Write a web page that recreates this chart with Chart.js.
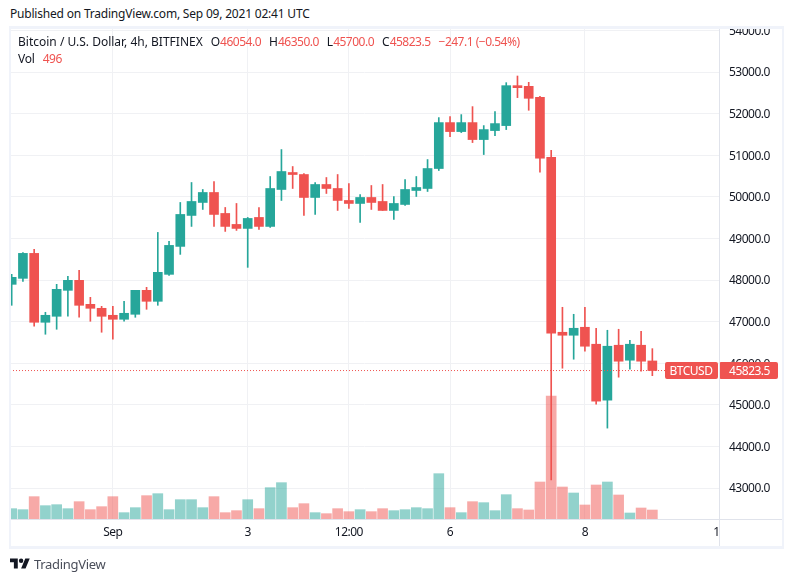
<!DOCTYPE html>
<html>
<head>
<meta charset="utf-8">
<script src="https://cdn.jsdelivr.net/npm/chart.js@4/dist/chart.umd.min.js"></script>
<style>
    html, body { margin: 0; padding: 0; background: #fff; }
    body { width: 793px; height: 582px; position: relative; overflow: hidden; font-family: 'Noto Sans', sans-serif; color: #131722; }
    canvas { position: absolute; left: 0; top: 0; }
    .abs { position: absolute; white-space: pre; font-size: 12px; line-height: 16px; letter-spacing: -0.2px; }
    .line { position: absolute; background: #e0e3eb; }
    .frame { position: absolute; background: #f0f3fa; }
    .red { color: #ef5350; letter-spacing: -0.5px; }
    .gap { margin-left: 8px; }
</style>
</head>
<body>
<canvas id="chart" width="793" height="582"></canvas>
<div style="position:absolute;left:0;top:0;width:793px;height:26px;background:#fff"></div>
<div class="frame" style="left:9px;top:26px;width:775px;height:3px"></div>
<div class="frame" style="left:9px;top:26px;width:2px;height:523px"></div>
<div class="frame" style="left:782px;top:26px;width:2px;height:523px"></div>
<div class="frame" style="left:9px;top:546px;width:775px;height:3px"></div>
<div class="line" style="left:719px;top:29px;width:1px;height:517px"></div>
<div class="line" style="left:11px;top:519px;width:771px;height:1px"></div>
<div class="abs" style="left:10px;top:6px">Published on TradingView.com, Sep 09, 2021 02:41 UTC</div>
<div class="abs" style="left:18px;top:34px;letter-spacing:0">Bitcoin / U.S. Dollar, 4h, BITFINEX<span class="gap">O</span><span class="red">46054.0</span><span class="gap">H</span><span class="red">46350.0</span><span class="gap">L</span><span class="red">45700.0</span><span class="gap">C</span><span class="red">45823.5</span><span class="gap red">−247.1 (−0.54%)</span></div>
<div class="abs" style="left:18px;top:51px">Vol<span class="gap red">496</span></div>
<svg style="position:absolute;left:10px;top:556px" width="20" height="16" viewBox="0 0 36 28"><path fill="#131722" d="M14 22H7V11H0V4h14v18zM28 22h-8l7.5-18h8L28 22z"/><circle fill="#131722" cx="20" cy="8" r="4"/></svg>
<div class="abs" style="left:34px;top:556px;font-size:13px;letter-spacing:-0.3px;color:#4a4e5a">TradingView</div>
<script>
const opens = [47896, 48040, 48640, 46984, 47128, 47752, 47992, 47416, 47320, 47152, 47056, 47176, 47752, 47488, 48136, 48808, 49552, 49864, 50104, 49600, 49336, 49240, 49504, 49288, 50176, 50584, 50536, 49984, 50296, 50200, 49912, 49840, 49984, 49888, 49672, 49816, 50152, 50200, 50680, 51784, 51568, 51784, 51376, 51592, 51712, 52672, 52656, 52392, 50952, 46744, 46672, 46864, 46456, 45112, 46432, 46072, 46432, 46054];
const closes = [48064, 48640, 46984, 47152, 47776, 47992, 47392, 47320, 47128, 47056, 47200, 47752, 47488, 48184, 48832, 49576, 49888, 50104, 49576, 49288, 49240, 49480, 49288, 50200, 50608, 50536, 49984, 50296, 50200, 49912, 49840, 49984, 49864, 49672, 49840, 50176, 50224, 50680, 51784, 51568, 51784, 51376, 51616, 51760, 52672, 52624, 52368, 50928, 46720, 46672, 46840, 46408, 45088, 46408, 46048, 46456, 46048, 45823.5];
const highs = [48136, 48660, 48736, 47224, 47896, 48088, 48232, 47584, 47368, 47368, 47488, 47752, 47824, 49144, 48928, 49864, 50344, 50176, 50368, 49744, 49840, 49504, 49744, 50488, 51136, 50728, 50560, 50344, 50464, 50536, 50320, 50056, 50272, 50296, 50008, 50416, 50488, 50896, 51904, 51928, 51976, 52168, 51712, 52048, 52744, 52904, 52752, 52416, 51120, 47344, 47176, 47344, 46840, 46792, 46816, 46552, 46768, 46350];
const lows = [47392, 47968, 46888, 46696, 46816, 47128, 47104, 47008, 46744, 46576, 47008, 47104, 47296, 47392, 48112, 48616, 49288, 49696, 49288, 49168, 49192, 48304, 49216, 49264, 49912, 50200, 49552, 49576, 50080, 49672, 49720, 49384, 49696, 49672, 49456, 49792, 50008, 50128, 50632, 51448, 51544, 51304, 51016, 51472, 51616, 52384, 52080, 50592, 43192, 45880, 46096, 46288, 45016, 44440, 45664, 45856, 45808, 45700];
const volumes = [570, 515, 1233, 736, 791, 570, 957, 515, 681, 1233, 350, 626, 1288, 1398, 515, 1067, 1067, 626, 1233, 350, 460, 1067, 570, 1730, 2006, 626, 846, 350, 294, 570, 405, 515, 405, 570, 460, 515, 626, 570, 2502, 626, 350, 957, 902, 460, 1343, 570, 497, 2042, 6790, 1766, 1435, 773, 1877, 2042, 1325, 331, 607, 496];

const priceTicks = [43000, 44000, 45000, 46000, 47000, 48000, 49000, 50000, 51000, 52000, 53000, 54000];
const timeTickIndex = [9, 21, 30, 39, 51, 62.7];
const timeTickLabels = ['Sep', '3', '12:00', '6', '8', '1'];

const lastClose = closes[closes.length - 1];
const RED = '#ef5350';
const GREEN = '#26a69a';
const GRID = '#f0f1f4';
const isUp = i => closes[i] >= opens[i];
const indexes = opens.map((_, i) => i);

// narrower digits, closer to the original axis font
const textSpacingPlugin = {
    id: 'textSpacing',
    beforeDraw(chart) {
        chart.ctx.letterSpacing = '-0.5px';
    }
};

// shows the last price tag over the axis
const priceTagPlugin = {
    id: 'priceTag',
    afterDraw(chart) {
        const ctx = chart.ctx;
        const y = chart.scales.y.getPixelForValue(lastClose);
        ctx.save();
        ctx.fillStyle = RED;
        ctx.beginPath();
        ctx.roundRect(665, y - 8.5, 53, 17, 2);
        ctx.roundRect(719, y - 8.5, 59, 17, 2);
        ctx.fill();
        ctx.fillStyle = '#fff';
        ctx.font = '12px "Noto Sans", sans-serif';
        ctx.textAlign = 'center';
        ctx.textBaseline = 'middle';
        ctx.fillText('BTCUSD', 691, y + 1);
        ctx.fillText(lastClose.toFixed(1), 749.5, y + 1);
        ctx.restore();
    }
};

new Chart(document.getElementById('chart').getContext('2d'), {
    data: {
        datasets: [
            {
                type: 'line',
                data: [{ x: -0.15, y: lastClose }, { x: 58.4, y: lastClose }],
                borderColor: RED,
                borderWidth: 1,
                borderDash: [1, 2],
                pointRadius: 0,
                order: 0
            },
            {
                type: 'bar',
                data: indexes.map(i => ({ x: i, y: [opens[i], closes[i]] })),
                backgroundColor: indexes.map(i => isUp(i) ? GREEN : RED),
                barThickness: 9,
                grouped: false,
                order: 1
            },
            {
                type: 'bar',
                data: indexes.map(i => ({ x: i, y: [lows[i], highs[i]] })),
                backgroundColor: indexes.map(i => isUp(i) ? GREEN : RED),
                barThickness: 1,
                grouped: false,
                order: 2
            },
            {
                type: 'bar',
                yAxisID: 'yVol',
                data: indexes.map(i => ({ x: i, y: volumes[i] })),
                backgroundColor: indexes.map(i => isUp(i) ? 'rgba(38,166,154,0.5)' : 'rgba(239,83,80,0.5)'),
                barThickness: 10,
                grouped: false,
                order: 3
            }
        ]
    },
    options: {
        responsive: false,
        animation: false,
        layout: { padding: { left: 10, top: 26, right: 10, bottom: 35 } },
        plugins: { legend: { display: false }, tooltip: { enabled: false } },
        scales: {
            x: {
                type: 'linear',
                offset: false,
                min: -0.15,
                max: 62.93,
                afterBuildTicks: axis => { axis.ticks = timeTickIndex.map(v => ({ value: v })); },
                afterFit: axis => { axis.height = 28; },
                grid: {
                    offset: false,
                    drawTicks: false,
                    color: ctx => ctx.index === timeTickIndex.length - 1 ? 'rgba(0,0,0,0)' : GRID
                },
                border: { display: false },
                ticks: {
                    autoSkip: false,
                    maxRotation: 0,
                    padding: 6,
                    color: '#131722',
                    font: { family: '"Noto Sans", sans-serif', size: 12 },
                    callback: (value, index) => timeTickLabels[index]
                }
            },
            y: {
                position: 'right',
                min: 42255,
                max: 54106,
                afterBuildTicks: axis => { axis.ticks = priceTicks.map(v => ({ value: v })); },
                afterFit: axis => { axis.width = 64; },
                grid: { drawTicks: false, color: GRID },
                border: { display: false },
                ticks: {
                    padding: 10,
                    labelOffset: 1,
                    color: '#131722',
                    font: { family: '"Noto Sans", sans-serif', size: 12 },
                    callback: value => value.toFixed(1)
                }
            },
            yVol: {
                display: false,
                min: 0,
                max: 27214
            }
        }
    },
    plugins: [textSpacingPlugin, priceTagPlugin]
});
</script>
</body>
</html>
